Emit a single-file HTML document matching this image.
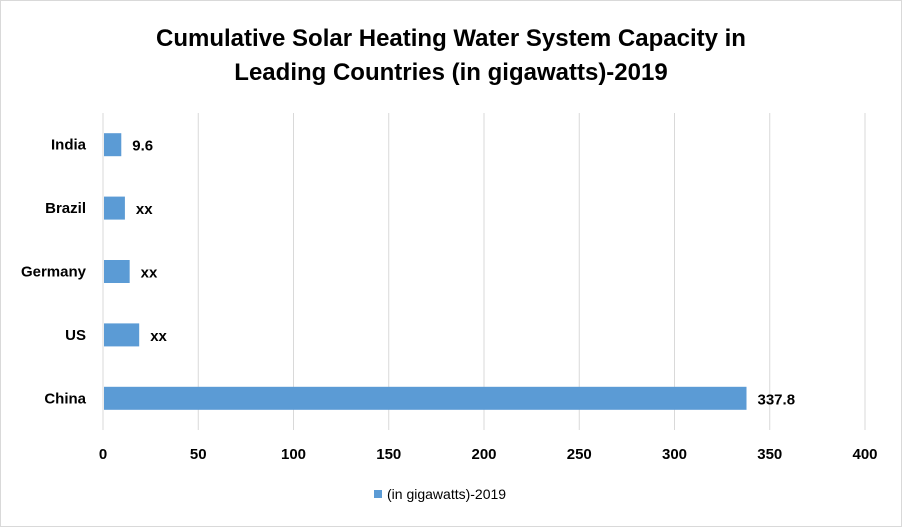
<!DOCTYPE html>
<html><head><meta charset="utf-8"><style>
body{margin:0;background:#fff}
svg{display:block;font-family:"Liberation Sans",sans-serif}
</style></head><body>
<svg id="c" width="902" height="527">
<rect x="0.5" y="0.5" width="901" height="526" fill="#fff" stroke="#d9d9d9"/>
<text x="451" y="46" text-anchor="middle" font-size="24" font-weight="bold" fill="#000">Cumulative Solar Heating Water System Capacity in</text>
<text x="451" y="80" text-anchor="middle" font-size="24" font-weight="bold" fill="#000">Leading Countries (in gigawatts)-2019</text>
<g id="grid"></g><g id="bars"></g><g id="labels"></g>
<rect x="374" y="490" width="8" height="8" fill="#5b9bd5"/>
<text x="387" y="499" font-size="14" fill="#000">(in gigawatts)-2019</text>
</svg>
<script>
const categories=["India","Brazil","Germany","US","China"];
const values=[9.6,11.5,14,19,337.8];
const valueLabels=["9.6","xx","xx","xx","337.8"];
const ticks=[0,50,100,150,200,250,300,350,400];
const NS="http://www.w3.org/2000/svg";
const x0=103,x1=865,plotTop=113,plotBot=430,xmax=400;
const xs=v=>x0+(x1-x0)*v/xmax;
const band=(plotBot-plotTop)/categories.length;
function mk(t,a,p,txt){const e=document.createElementNS(NS,t);for(const k in a)e.setAttribute(k,a[k]);if(txt!=null)e.textContent=txt;p.appendChild(e);return e;}
const g=document.getElementById('grid'),b=document.getElementById('bars'),l=document.getElementById('labels');
ticks.forEach(t=>{
 const ln=mk('line',{x1:xs(t),x2:xs(t),y1:plotTop,y2:plotBot,stroke:'#d9d9d9','stroke-width':1},g);
 
 
 const tx=mk('text',{x:xs(t),y:459,'text-anchor':'middle','font-size':15,'font-weight':'bold',fill:'#000'},l,String(t));
 
 
});
categories.forEach((c,i)=>{
 const cy=plotTop+band*(i+0.5),h=23;
 const r=mk('rect',{x:x0+1,y:cy-h/2,width:xs(values[i])-x0-1,height:h,fill:'#5b9bd5'},b);
 
 
 const t=mk('text',{x:86,y:cy+5,'text-anchor':'end','font-size':15,'font-weight':'bold',fill:'#000'},l,c);
 
 
 const v=mk('text',{x:xs(values[i])+11,y:cy+6,'font-size':15,'font-weight':'bold',fill:'#000'},l,valueLabels[i]);
 
 
});
</script>
</body></html>
